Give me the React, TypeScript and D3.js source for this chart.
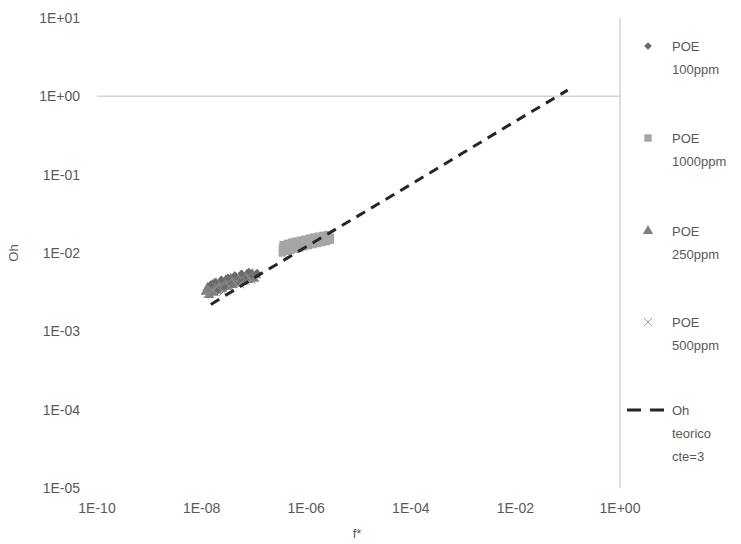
import * as d3 from "d3"
import React from "react"

// axis ticks
const xTicks = [1e-10, 1e-8, 1e-6, 1e-4, 1e-2, 1]
const xTickLabels = ["1E-10", "1E-08", "1E-06", "1E-04", "1E-02", "1E+00"]
const yTicks = [10, 1, 0.1, 0.01, 0.001, 0.0001, 0.00001]
const yTickLabels = ["1E+01", "1E+00", "1E-01", "1E-02", "1E-03", "1E-04", "1E-05"]

// POE 100ppm (diamonds)
const poe100X = [1.5e-8, 1.8e-8, 2.1e-8, 2.4e-8, 2.8e-8, 3.2e-8, 3.7e-8, 4.3e-8, 5.0e-8, 5.8e-8, 6.8e-8, 8.0e-8, 9.5e-8, 1.15e-7]
const poe100Y = [4.0e-3, 4.3e-3, 3.4e-3, 4.6e-3, 3.6e-3, 4.9e-3, 4.0e-3, 5.2e-3, 4.4e-3, 5.5e-3, 4.6e-3, 5.8e-3, 5.0e-3, 5.6e-3]

// POE 1000ppm (squares)
const poe1000X = [3.5e-7, 3.5e-7, 3.6e-7, 4.2e-7, 4.3e-7, 4.4e-7, 5.1e-7, 5.2e-7, 5.3e-7, 6.2e-7, 6.3e-7, 6.4e-7, 7.5e-7, 7.6e-7, 7.8e-7, 9.0e-7, 9.2e-7, 9.4e-7, 1.1e-6, 1.12e-6, 1.15e-6, 1.35e-6, 1.37e-6, 1.4e-6, 1.65e-6, 1.7e-6, 1.72e-6, 2.0e-6, 2.05e-6, 2.1e-6, 2.45e-6, 2.5e-6, 2.55e-6, 2.9e-6, 2.9e-6]
const poe1000Y = [1.0e-2, 1.15e-2, 1.28e-2, 1.05e-2, 1.2e-2, 1.33e-2, 1.08e-2, 1.24e-2, 1.38e-2, 1.12e-2, 1.28e-2, 1.42e-2, 1.16e-2, 1.32e-2, 1.46e-2, 1.2e-2, 1.36e-2, 1.5e-2, 1.24e-2, 1.4e-2, 1.55e-2, 1.28e-2, 1.44e-2, 1.6e-2, 1.32e-2, 1.48e-2, 1.64e-2, 1.36e-2, 1.52e-2, 1.68e-2, 1.4e-2, 1.56e-2, 1.72e-2, 1.45e-2, 1.6e-2]

// POE 250ppm (triangles)
const poe250X = [1.2e-8, 1.3e-8, 1.4e-8, 1.5e-8, 1.6e-8, 1.7e-8, 1.8e-8, 1.9e-8, 2.0e-8, 2.2e-8, 2.3e-8, 2.5e-8, 2.7e-8, 2.9e-8, 3.1e-8, 3.3e-8, 3.6e-8, 3.9e-8, 4.2e-8, 4.5e-8, 4.9e-8, 5.3e-8, 5.7e-8, 6.2e-8, 6.7e-8, 7.3e-8, 7.9e-8, 8.6e-8, 9.3e-8, 1.0e-7, 1.1e-7]
const poe250Y = [3.2e-3, 3.6e-3, 2.9e-3, 3.4e-3, 3.9e-3, 3.1e-3, 3.6e-3, 4.1e-3, 3.3e-3, 3.8e-3, 4.3e-3, 3.5e-3, 4.0e-3, 4.5e-3, 3.7e-3, 4.2e-3, 4.7e-3, 3.9e-3, 4.4e-3, 4.9e-3, 4.1e-3, 4.6e-3, 5.1e-3, 4.3e-3, 4.8e-3, 5.3e-3, 4.5e-3, 5.0e-3, 5.4e-3, 4.7e-3, 5.2e-3]

// POE 500ppm (x marks)
const poe500X = [1.3e-8, 1.6e-8, 2.0e-8, 2.6e-8, 3.4e-8, 4.4e-8, 5.5e-8, 7.0e-8, 9.0e-8, 1.05e-7]
const poe500Y = [3.0e-3, 3.3e-3, 3.7e-3, 3.2e-3, 3.8e-3, 4.2e-3, 4.0e-3, 4.4e-3, 4.6e-3, 4.9e-3]

// Oh teorico cte=3
const teoX = [1.5e-8, 1e-7, 1e-6, 1e-5, 1e-4, 1e-3, 1e-2, 1e-1]
const teoY = [2.2e-3, 4.8e-3, 1.2e-2, 3.0e-2, 7.5e-2, 0.19, 0.48, 1.2]

const legendLabels = [
  ["POE", "100ppm"],
  ["POE", "1000ppm"],
  ["POE", "250ppm"],
  ["POE", "500ppm"],
  ["Oh", "teorico", "cte=3"],
]

const W = 741
const H = 544
const font = "'Liberation Sans Narrow', 'Liberation Sans', Arial, sans-serif"
const textColor = "#595959"

const App = () => {
  const x = d3.scaleLog().domain([1e-10, 1]).range([97, 620])
  const y = d3.scaleLog().domain([1e-5, 10]).range([488, 18])

  const zip = (xs, ys) => xs.map((v, i) => [v, ys[i]])
  // excel style diamond: a square turned 45 degrees
  const diamond = d3.symbol().type(d3.symbolSquare).size(30)
  const square = d3.symbol().type(d3.symbolSquare).size(55)
  const triangle = d3.symbol().type(d3.symbolTriangle).size(45)
  const cross = d3.symbol().type(d3.symbolX).size(45)

  const line = d3
    .line()
    .x((d) => x(d[0]))
    .y((d) => y(d[1]))

  const legendY = [46, 138, 231, 322, 410]

  return (
    <svg width={W} height={H} style={{ position: "absolute", left: 0, top: 0, background: "#fff" }}>
      {/* axis lines crossing at 1 */}
      <line x1={x(1e-10)} x2={x(1)} y1={y(1)} y2={y(1)} stroke="#d4d4d4" strokeWidth={1.5} />
      <line x1={x(1)} x2={x(1)} y1={y(10)} y2={y(1e-5)} stroke="#d4d4d4" strokeWidth={1.5} />

      {yTicks.map((t, i) => (
        <text key={"y" + i} x={80} y={y(t)} dy="0.35em" textAnchor="end" fontSize={14} fontFamily={font} fill={textColor}>
          {yTickLabels[i]}
        </text>
      ))}
      {xTicks.map((t, i) => (
        <text key={"x" + i} x={x(t)} y={508} dy="0.35em" textAnchor="middle" fontSize={14} fontFamily={font} fill={textColor}>
          {xTickLabels[i]}
        </text>
      ))}
      <text x={357} y={533} dy="0.35em" textAnchor="middle" fontSize={13} fontFamily={font} fill={textColor}>
        f*
      </text>
      <text transform={`translate(13,253) rotate(-90)`} dy="0.35em" textAnchor="middle" fontSize={13} fontFamily={font} fill={textColor}>
        Oh
      </text>

      {/* data */}
      {zip(poe1000X, poe1000Y).map((d, i) => (
        <path key={"s" + i} d={square()} transform={`translate(${x(d[0])},${y(d[1])})`} fill="#a6a6a6" />
      ))}
      {zip(poe250X, poe250Y).map((d, i) => (
        <path key={"t" + i} d={triangle()} transform={`translate(${x(d[0])},${y(d[1])})`} fill="#7f7f7f" />
      ))}
      {zip(poe100X, poe100Y).map((d, i) => (
        <path key={"d" + i} d={diamond()} transform={`translate(${x(d[0])},${y(d[1])}) rotate(45)`} fill="#6a6a6a" />
      ))}
      {zip(poe500X, poe500Y).map((d, i) => (
        <path key={"c" + i} d={cross()} transform={`translate(${x(d[0])},${y(d[1])})`} fill="none" stroke="#8c8c8c" strokeWidth={1} />
      ))}
      <path d={line(zip(teoX, teoY))} fill="none" stroke="#262626" strokeWidth={3} strokeDasharray="10,7" />

      {/* legend */}
      <path d={diamond()} transform={`translate(648,${legendY[0]}) rotate(45)`} fill="#6a6a6a" />
      <path d={square()} transform={`translate(648,${legendY[1]})`} fill="#a6a6a6" />
      <path d={triangle()} transform={`translate(648,${legendY[2]})`} fill="#7f7f7f" />
      <path d={cross()} transform={`translate(648,${legendY[3]})`} fill="none" stroke="#a0a0a0" strokeWidth={1} />
      <line x1={627} x2={668} y1={legendY[4]} y2={legendY[4]} stroke="#262626" strokeWidth={3} strokeDasharray="14,9" />
      {legendLabels.map((lines, i) => (
        <text key={"l" + i} x={672} y={legendY[i]} fontSize={13} fontFamily={font} fill={textColor}>
          {lines.map((s, j) => (
            <tspan key={j} x={672} dy={j === 0 ? "0.35em" : 23}>
              {s}
            </tspan>
          ))}
        </text>
      ))}
    </svg>
  )
}

export default App
